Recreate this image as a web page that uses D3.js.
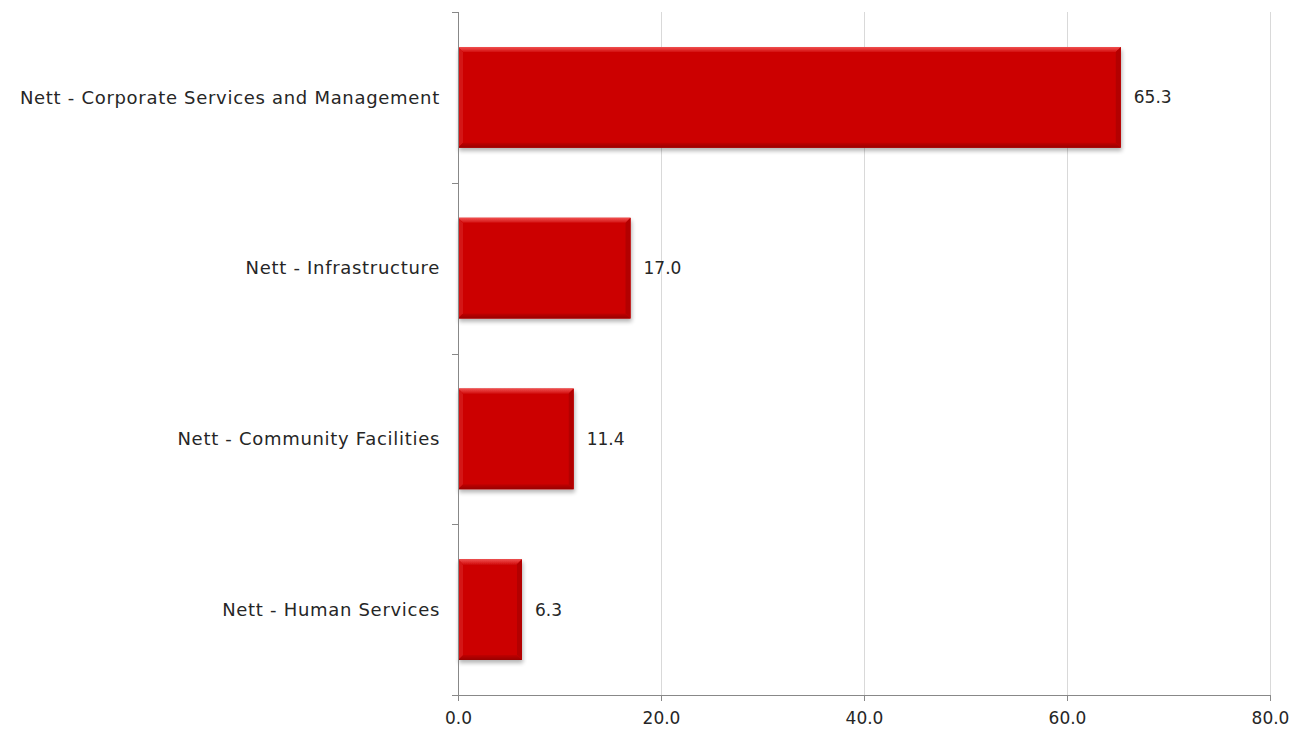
<!DOCTYPE html>
<html>
<head>
<meta charset="utf-8">
<script src="https://cdn.jsdelivr.net/npm/d3@7"></script>
<style>
  html, body { margin: 0; padding: 0; background: #fff; }
  svg { display: block; font-family: "DejaVu Sans", sans-serif; }
</style>
</head>
<body>
<svg id="chart" width="1303" height="733"></svg>
<script>
// Net figures by service area
const categories = [
  "Nett - Corporate Services and Management",
  "Nett - Infrastructure",
  "Nett - Community Facilities",
  "Nett - Human Services"
];
const values = [65.3, 17.0, 11.4, 6.3];
const xTicks = [0, 20, 40, 60, 80];

const FONT_SIZE = 17;
const LABEL_SIZE = 18;
const TEXT = "#262626";

const svg = d3.select("#chart");
const margin = { left: 458, right: 33, top: 12, bottom: 38 };
const W = 1303, H = 733;
const innerW = W - margin.left - margin.right;
const innerH = H - margin.top - margin.bottom;

const x = d3.scaleLinear().domain([0, 80]).range([0, innerW]);
const y = d3.scaleBand().domain(categories).range([0, innerH]).paddingInner(0.41).paddingOuter(0.205);

const defs = svg.append("defs");
const shadow = defs.append("filter").attr("id", "shadow")
  .attr("x", "-10%").attr("y", "-10%").attr("width", "130%").attr("height", "130%");
shadow.append("feGaussianBlur").attr("in", "SourceAlpha").attr("stdDeviation", 2).attr("result", "b");
shadow.append("feOffset").attr("in", "b").attr("dx", 1).attr("dy", 3).attr("result", "o");
shadow.append("feComponentTransfer").attr("in", "o").attr("result", "s")
  .append("feFuncA").attr("type", "linear").attr("slope", 0.3);
const merge = shadow.append("feMerge");
merge.append("feMergeNode").attr("in", "s");
merge.append("feMergeNode").attr("in", "SourceGraphic");

// soft vertical gradients for the bevel edges
const topGrad = defs.append("linearGradient").attr("id", "topBevel").attr("x1", 0).attr("y1", 0).attr("x2", 0).attr("y2", 1);
topGrad.append("stop").attr("offset", "0%").attr("stop-color", "#f05050");
topGrad.append("stop").attr("offset", "100%").attr("stop-color", "#d41010");
const botGrad = defs.append("linearGradient").attr("id", "botBevel").attr("x1", 0).attr("y1", 0).attr("x2", 0).attr("y2", 1);
botGrad.append("stop").attr("offset", "0%").attr("stop-color", "#c00505");
botGrad.append("stop").attr("offset", "100%").attr("stop-color", "#980303");

const g = svg.append("g").attr("transform", `translate(${margin.left},${margin.top})`);

// Vertical gridlines
g.append("g").selectAll("line").data(xTicks.filter(d => d > 0)).join("line")
  .attr("x1", d => Math.round(x(d)) + 0.5).attr("x2", d => Math.round(x(d)) + 0.5)
  .attr("y1", 0).attr("y2", innerH)
  .attr("stroke", "#d9d9d9").attr("stroke-width", 1);

// Bars with a bevelled face
const bars = g.append("g").selectAll("g").data(categories).join("g")
  .attr("filter", "url(#shadow)");
const bevel = 5;
bars.each(function(c, i) {
  const sel = d3.select(this);
  const x0 = 0, x1 = x(values[i]);
  const y0 = y(c), y1 = y(c) + y.bandwidth();
  sel.append("rect").attr("x", x0).attr("y", y0)
    .attr("width", x1 - x0).attr("height", y1 - y0).attr("fill", "#cc0606");
  sel.append("path")
    .attr("d", `M${x0},${y0}L${x1},${y0}L${x1 - bevel},${y0 + bevel}L${x0 + bevel},${y0 + bevel}Z`)
    .attr("fill", "url(#topBevel)");
  sel.append("path")
    .attr("d", `M${x0},${y0}L${x0 + bevel},${y0 + bevel}L${x0 + bevel},${y1 - bevel}L${x0},${y1}Z`)
    .attr("fill", "#d41414");
  sel.append("path")
    .attr("d", `M${x1},${y0}L${x1},${y1}L${x1 - bevel},${y1 - bevel}L${x1 - bevel},${y0 + bevel}Z`)
    .attr("fill", "#b30404");
  sel.append("path")
    .attr("d", `M${x0},${y1}L${x1},${y1}L${x1 - bevel},${y1 - bevel}L${x0 + bevel},${y1 - bevel}Z`)
    .attr("fill", "url(#botBevel)");
});

// Value labels
g.append("g").selectAll("text").data(categories).join("text")
  .attr("x", (c, i) => x(values[i]) + 13)
  .attr("y", c => y(c) + y.bandwidth() / 2)
  .attr("dy", "0.35em")
  .attr("font-size", FONT_SIZE).attr("fill", TEXT)
  .text((c, i) => values[i].toFixed(1));

// X axis
const xAxis = g.append("g").attr("transform", `translate(0,${innerH})`)
  .call(d3.axisBottom(x).tickValues(xTicks).tickFormat(d3.format(".1f")).tickSizeInner(6).tickSizeOuter(0).tickPadding(11));
xAxis.select(".domain").attr("stroke", "#888").attr("d", `M-6,0.5H${innerW}`);
xAxis.selectAll(".tick line").attr("stroke", "#888");
xAxis.selectAll(".tick text").attr("font-size", FONT_SIZE).attr("fill", TEXT).attr("font-family", "DejaVu Sans, sans-serif");

// Y axis with ticks at band boundaries
const yAxisG = g.append("g");
yAxisG.append("line").attr("x1", 0.5).attr("x2", 0.5).attr("y1", 0).attr("y2", innerH).attr("stroke", "#888");
const boundaries = d3.range(categories.length + 1).map(i => i * innerH / categories.length);
yAxisG.selectAll("line.tk").data(boundaries).join("line").attr("class", "tk")
  .attr("x1", -6).attr("x2", 0).attr("y1", d => Math.round(d) + 0.5).attr("y2", d => Math.round(d) + 0.5)
  .attr("stroke", "#888");
yAxisG.selectAll("text").data(categories).join("text")
  .attr("x", -18).attr("y", c => y(c) + y.bandwidth() / 2).attr("dy", "0.35em")
  .attr("text-anchor", "end").attr("font-size", LABEL_SIZE).attr("letter-spacing", 0.7).attr("fill", TEXT)
  .text(c => c);
</script>
</body>
</html>
